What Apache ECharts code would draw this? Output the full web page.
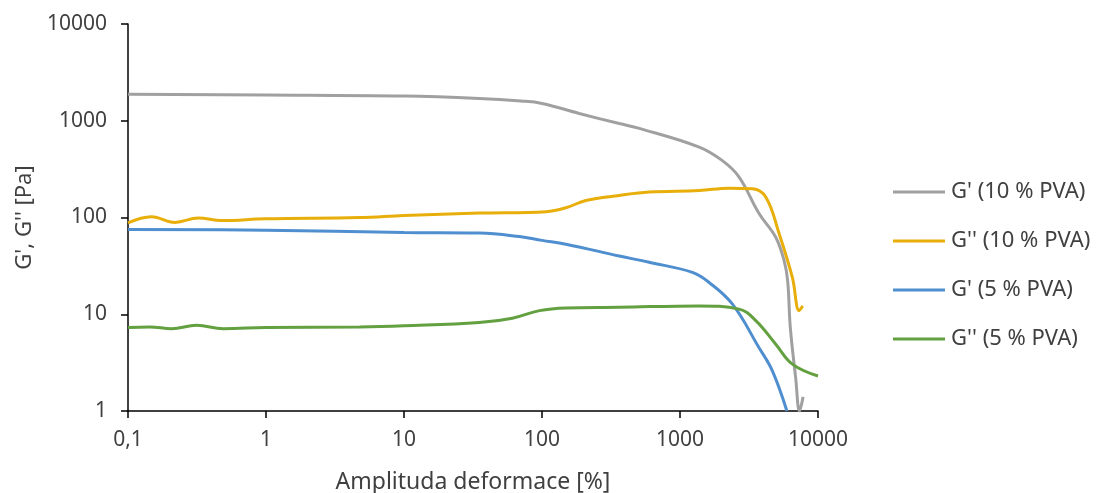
<!DOCTYPE html>
<html>
<head>
<meta charset="utf-8">
<script src="https://cdn.jsdelivr.net/npm/echarts@6/dist/echarts.min.js"></script>
<style>
  html, body { margin: 0; padding: 0; background: #fff; }
  #chart { width: 1102px; height: 493px; }
</style>
</head>
<body>
<div id="chart"></div>
<script>
// amplitude [%] / modulus [Pa]
const gp10X  = [0.1, 1, 10, 35, 70, 100, 186, 363, 507, 1377, 2018, 2680, 3740, 4940, 5680, 6030, 6300, 6890, 7350, 7800];
const gp10Y  = [1880, 1850, 1800, 1700, 1600, 1510, 1190, 935, 835, 535, 389, 262, 110, 62.5, 35.8, 22, 7.3, 2.2, 1.0, 1.4];

const gpp10X = [0.1, 0.148, 0.219, 0.323, 0.477, 1, 4.77, 10, 35, 107, 149, 208, 363, 598, 1377, 2270, 3350, 4190, 5230, 6520, 7300, 7750];
const gpp10Y = [88, 102, 89, 99, 93, 97, 100, 105, 111, 115, 126, 150, 169, 183, 190, 201, 198, 162, 68, 24, 10.9, 12.2];

const gp5X   = [0.1, 1, 10, 35, 68.5, 100, 149, 363, 598, 1230, 1626, 2400, 3740, 4670, 5950];
const gp5Y   = [75, 74, 70, 69, 63.5, 58, 53, 40, 34.4, 27.1, 21.3, 12.7, 4.5, 2.6, 1.0];

const gpp5X  = [0.1, 0.144, 0.207, 0.314, 0.49, 1, 4.77, 10, 35, 61, 96, 149, 363, 1377, 2680, 3540, 4940, 6520, 10000];
const gpp5Y  = [7.3, 7.4, 7.1, 7.7, 7.1, 7.3, 7.4, 7.6, 8.2, 9.1, 10.9, 11.6, 11.8, 12.2, 11.3, 8.6, 4.9, 3.05, 2.3];

const seriesNames  = ["G' (10 % PVA)", "G'' (10 % PVA)", "G' (5 % PVA)", "G'' (5 % PVA)"];
const seriesColors = ['#a0a0a0', '#e8ae0a', '#4f8ecf', '#63a03f'];
const xTicks = [0.1, 1, 10, 100, 1000, 10000];
const yTicks = [1, 10, 100, 1000, 10000];

const font = '"Noto Sans", "Open Sans", sans-serif';
const textColor = '#404040';

function pairs(xs, ys) {
  return xs.map((x, i) => [x, ys[i]]);
}

const allData = [pairs(gp10X, gp10Y), pairs(gpp10X, gpp10Y), pairs(gp5X, gp5Y), pairs(gpp5X, gpp5Y)];

const chart = echarts.init(document.getElementById('chart'));

chart.setOption({
  animation: false,
  textStyle: { fontFamily: font },
  grid: { left: 128, right: 284, top: 24, bottom: 82, containLabel: false, outerBoundsMode: 'none' },
  legend: {
    orient: 'vertical',
    left: 888,
    top: 175,
    icon: 'rect',
    itemWidth: 52,
    itemHeight: 3,
    itemGap: 25,
    data: seriesNames,
    textStyle: { fontSize: 22, color: textColor, fontFamily: font, lineHeight: 24, padding: [0, 0, 0, 1] }
  },
  xAxis: {
    type: 'log',
    logBase: 10,
    min: xTicks[0],
    max: xTicks[xTicks.length - 1],
    name: 'Amplituda deformace [%]',
    nameLocation: 'middle',
    nameGap: 60,
    nameTextStyle: { fontSize: 23, color: textColor, fontFamily: font },
    axisLine: { lineStyle: { color: '#000', width: 1.5 } },
    axisTick: { show: true, length: 7, lineStyle: { color: '#000', width: 1.5 } },
    axisLabel: {
      fontSize: 21, color: textColor, margin: 19,
      formatter: v => String(parseFloat(v.toPrecision(6))).replace('.', ',')
    },
    splitLine: { show: false }
  },
  yAxis: {
    type: 'log',
    logBase: 10,
    min: yTicks[0],
    max: yTicks[yTicks.length - 1],
    name: "G', G'' [Pa]",
    nameLocation: 'middle',
    nameRotate: 90,
    nameGap: 88,
    nameTextStyle: { fontSize: 22, color: textColor, fontFamily: font },
    axisLine: { show: true, lineStyle: { color: '#000', width: 1.5 } },
    axisTick: { show: true, length: 7, lineStyle: { color: '#000', width: 1.5 } },
    axisLabel: {
      fontSize: 21, color: textColor, margin: 21,
      formatter: v => String(parseFloat(v.toPrecision(6)))
    },
    splitLine: { show: false }
  },
  series: seriesNames.map((name, i) => ({
    name: name,
    type: 'line',
    data: allData[i],
    smooth: 0.4,
    symbol: 'none',
    clip: true,
    lineStyle: { color: seriesColors[i], width: 3 },
    itemStyle: { color: seriesColors[i] }
  }))
});
</script>
</body>
</html>
